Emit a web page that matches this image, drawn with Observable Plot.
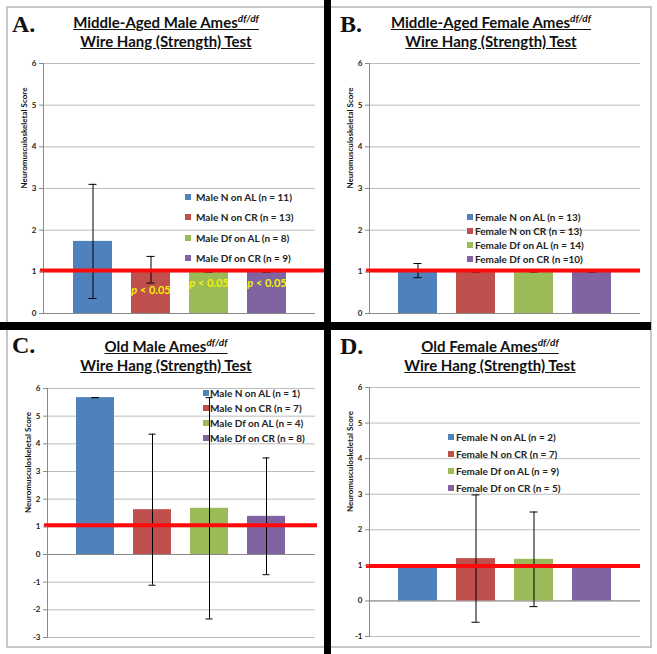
<!DOCTYPE html>
<html>
<head>
<meta charset="utf-8">
<script src="https://cdn.jsdelivr.net/npm/d3@7"></script>
<script src="https://cdn.jsdelivr.net/npm/@observablehq/plot@0.6"></script>
<style>
  body { margin: 0; background: #fff; }
  #root { position: relative; width: 657px; height: 654px; overflow: hidden; font-family: Lato, "Open Sans", sans-serif; background: #fff; }
  .abs { position: absolute; }
  .letter { position: absolute; font-family: "Liberation Serif", serif; font-weight: bold; font-size: 24px; line-height: 24px; color: #111; }
  .title { position: absolute; font-weight: bold; font-size: 15px; line-height: 19px; text-decoration: underline; white-space: nowrap; transform: translateX(-50%); color: #111; }
  .title sup { font-style: italic; font-size: 10px; vertical-align: 6px; line-height: 0; }
  .legend { position: absolute; font-weight: bold; font-size: 10px; color: #222; white-space: nowrap; }
  .legend .row { position: relative; }
  .legend .sw { position: absolute; width: 6px; height: 6px; top: 50%; margin-top: -3px; }
  .bar { position: absolute; background: #000; }
  .frame { position: absolute; border: 2px solid #c8c8c8; box-sizing: border-box; }
  svg text { font-family: Lato, "Open Sans", sans-serif; }
</style>
</head>
<body>
<div id="root"></div>
<script>
// ---------- data ----------
const categories = ["N on AL", "N on CR", "Df on AL", "Df on CR"];
const barColors = ["#4F81BD", "#C0504D", "#9BBB59", "#8064A2"];
const yLabel = "Neuromusculoskeletal Score";

const legendA = ["Male N on AL (n = 11)", "Male N on CR (n = 13)", "Male Df on AL (n = 8)", "Male Df on CR (n = 9)"];
const meanA = [1.73, 1.05, 1.0, 1.0];
const errA = [1.37, 0.32, 0, 0];
const refA = 1.03;
const ticksA = [0, 1, 2, 3, 4, 5, 6];
const pLabelsA = ["", "p < 0.05", "p < 0.05", "p < 0.05"];

const legendB = ["Female N on AL (n = 13)", "Female N on CR (n = 13)", "Female Df on AL (n = 14)", "Female Df on CR (n =10)"];
const meanB = [1.03, 1.0, 1.0, 1.0];
const errB = [0.17, 0, 0, 0];
const refB = 1.03;
const ticksB = [0, 1, 2, 3, 4, 5, 6];

const legendC = ["Male N on AL (n = 1)", "Male N on CR (n = 7)", "Male Df on AL (n = 4)", "Male Df on CR (n = 8)"];
const meanC = [5.67, 1.62, 1.67, 1.38];
const errC = [0, 2.73, 4.0, 2.11];
const refC = 1.06;
const ticksC = [-3, -2, -1, 0, 1, 2, 3, 4, 5, 6];

const legendD = ["Female N on AL (n = 2)", "Female N on CR (n = 7)", "Female Df on AL (n = 9)", "Female Df on CR (n = 5)"];
const meanD = [0.97, 1.19, 1.17, 0.97];
const errD = [0, 1.79, 1.33, 0];
const refD = 0.98;
const ticksD = [-1, 0, 1, 2, 3, 4, 5, 6];

const titleLine1 = ["Middle-Aged Male Ames", "Middle-Aged Female Ames", "Old Male Ames", "Old Female Ames"];
const titleSup = "df/df";
const titleLine2 = "Wire Hang (Strength) Test";
const panelLetters = ["A.", "B.", "C.", "D."];

// ---------- layout ----------
const root = document.getElementById("root");
function el(tag, cls, style, html) {
  const e = document.createElement(tag);
  if (cls) e.className = cls;
  Object.assign(e.style, style || {});
  if (html != null) e.innerHTML = html;
  root.appendChild(e);
  return e;
}

const panels = [
  { left: 0, top: 0, width: 325, height: 322, mL: 43, mR: 10, mT: 63, mB: 9,
    mean: meanA, err: errA, ref: refA, ticks: ticksA, legend: legendA, pLabels: pLabelsA, refExt: -10,
    titleX: 166, titleTop: 13, letterX: 12, letterTop: 12,
    leg: { sq: 185, tx: 196, top: 187, row: 20.3 } },
  { left: 331, top: 0, width: 319, height: 322, mL: 38, mR: 10, mT: 63, mB: 9,
    mean: meanB, err: errB, ref: refB, ticks: ticksB, legend: legendB, refExt: 0,
    titleX: 160, titleTop: 13, letterX: 9, letterTop: 12,
    leg: { sq: 136, tx: 144, top: 210, row: 14 } },
  { left: 0, top: 330, width: 325, height: 317, mL: 47, mR: 10, mT: 58, mB: 10,
    mean: meanC, err: errC, ref: refC, ticks: ticksC, legend: legendC, refExt: -2,
    titleX: 166, titleTop: 7, letterX: 12, letterTop: 3,
    leg: { sq: 203, tx: 210, top: 55.5, row: 15 } },
  { left: 331, top: 330, width: 319, height: 317, mL: 38, mR: 10, mT: 57, mB: 11,
    mean: meanD, err: errD, ref: refD, ticks: ticksD, legend: legendD, refExt: 0,
    titleX: 159, titleTop: 7, letterX: 9, letterTop: 4,
    leg: { sq: 117, tx: 125, top: 98.5, row: 17 } }
];

// outer thin gray frame
el("div", "frame", { left: "6px", top: "6px", width: "646px", height: "642px" });

panels.forEach((p, k) => {
  const data = categories.map((c, i) => ({
    cat: c, mean: p.mean[i], lo: p.mean[i] - p.err[i], hi: p.mean[i] + p.err[i],
    fill: barColors[i], p: p.pLabels ? p.pLabels[i] : ""
  }));
  const domain = [p.ticks[0], p.ticks[p.ticks.length - 1]];
  const marks = [
    Plot.gridY(p.ticks, { stroke: "#bdbdbd", strokeOpacity: 1 }),
    Plot.ruleY([0], { stroke: "#8a8a8a" }),
    Plot.frame({ anchor: "left", stroke: "#8a8a8a" }),
    Plot.barY(data, { x: "cat", y: "mean", fill: "fill" }),
    Plot.ruleX(data, { x: "cat", y1: "lo", y2: "hi", stroke: "#000", strokeWidth: 1 }),
    Plot.tickY(data, { x: "cat", y: "lo", stroke: "#000", inset: 15.5 }),
    Plot.tickY(data, { x: "cat", y: "hi", stroke: "#000", inset: 15.5 }),
    Plot.ruleY([p.ref], { stroke: "#ff0a0a", strokeWidth: 4, insetLeft: -3, insetRight: p.refExt }),
    Plot.axisY(p.ticks, { tickSize: 4, tickPadding: 3, fontSize: 8, fontWeight: "bold", stroke: "#8a8a8a", fill: "#222", label: null, tickFormat: d => String(d) }),
    Plot.text([yLabel], { frameAnchor: "left", rotate: -90, dx: -19, fontSize: 8, fontWeight: "bold", fill: "#111", text: d => d })
  ];
  if (p.pLabels) {
    marks.push(Plot.text(data.filter((d, i) => i === 1), { x: "cat", y: "mean", text: "p", dy: 21, fill: "#f2f200", fontSize: 11, fontWeight: "bold", className: "plabel" }));
    marks.push(Plot.text(data.filter((d, i) => i > 1), { x: "cat", y: "mean", text: "p", dy: 12, fill: "#f2f200", fontSize: 11, fontWeight: "bold", className: "plabel" }));
  }
  const chart = Plot.plot({
    width: p.width, height: p.height,
    marginLeft: p.mL, marginRight: p.mR, marginTop: p.mT, marginBottom: p.mB,
    x: { domain: categories, axis: null, paddingInner: 0.33, paddingOuter: 0.5 },
    y: { domain, axis: null },
    color: { type: "identity" },
    style: { background: "transparent", overflow: "visible" },
    marks
  });
  chart.style.position = "absolute";
  chart.style.left = p.left + "px";
  chart.style.top = p.top + "px";
  root.appendChild(chart);

  // italic p in significance labels
  d3.select(chart).selectAll(".plabel text").each(function () {
    const t = this.textContent;
    if (t.startsWith("p")) {
      this.textContent = "";
      d3.select(this).append("tspan").attr("font-style", "italic").text("p");
      d3.select(this).append("tspan").text(t.slice(1));
    }
  });

  // titles
  el("div", "letter", { left: (p.left + p.letterX) + "px", top: (p.top + p.letterTop) + "px" }, panelLetters[k]);
  el("div", "title", { left: (p.left + p.titleX) + "px", top: (p.top + p.titleTop) + "px" },
    titleLine1[k] + "<sup>" + titleSup + "</sup>");
  el("div", "title", { left: (p.left + p.titleX) + "px", top: (p.top + p.titleTop + 19) + "px" }, titleLine2);

  // legend
  const lg = el("div", "legend", { left: (p.left + p.leg.sq) + "px", top: (p.top + p.leg.top) + "px" });
  p.legend.forEach((name, i) => {
    const row = document.createElement("div");
    row.className = "row";
    row.style.height = p.leg.row + "px";
    row.style.lineHeight = p.leg.row + "px";
    row.style.paddingLeft = (p.leg.tx - p.leg.sq) + "px";
    row.innerHTML = `<span class="sw" style="left:0;background:${barColors[i]}"></span>${name}`;
    lg.appendChild(row);
  });
});

// thick black separators
el("div", "bar", { left: "324px", top: "0px", width: "7px", height: "654px" });
el("div", "bar", { left: "0px", top: "322px", width: "651px", height: "8px" });
</script>
</body>
</html>
